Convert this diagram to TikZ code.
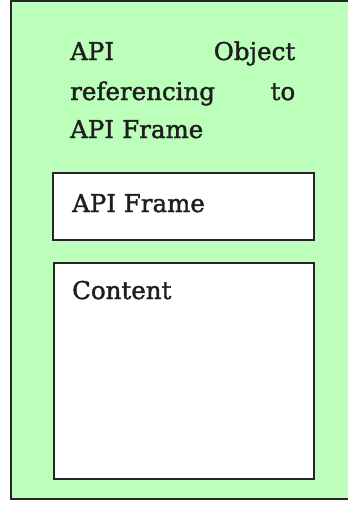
\documentclass[tikz,border=0pt]{standalone}
\usepackage{fontspec}
\setmainfont{DejaVu Serif}
\newfontfamily\boxfont[FakeBold=1.6]{DejaVu Serif}
\definecolor{panelgreen}{RGB}{187,255,187}
\definecolor{ink}{RGB}{30,30,30}
\begin{document}
\begin{tikzpicture}[x=1pt,y=-1pt,
  panel/.style={fill=panelgreen,draw=black!85,line width=2pt},
  framebox/.style={fill=white,draw=black!85,line width=2.2pt,inner sep=0pt,anchor=north west},
  label/.style={inner sep=0pt,anchor=base west,text=ink,font=\boxfont\fontsize{24.5}{39}\selectfont},
  headline/.style={label,text width=225pt,align=left}]
  \useasboundingbox[fill=white] (0,0) rectangle (348,506);
  % outer panel, running off the right edge
  \draw[panel] (11,1) rectangle (352,499);
  % heading text, first two lines spread to full width
  \node[headline] (head1) at (70,60) {API\hspace{\stretch{1}}Object};
  \node[headline] (head2) at (70,100) {referencing\hspace{\stretch{1}}to};
  \node[headline] (head3) at (70,138) {API Frame};
  % inner boxes
  \node[framebox,minimum width=261pt,minimum height=67pt] (frame) at (52,172) {};
  \node[framebox,minimum width=260pt,minimum height=216pt] (content) at (53,262) {};
  \node[label] (frametext) at (72,212) {API Frame};
  \node[label] (contenttext) at (72,299) {Content};
\end{tikzpicture}
\end{document}
